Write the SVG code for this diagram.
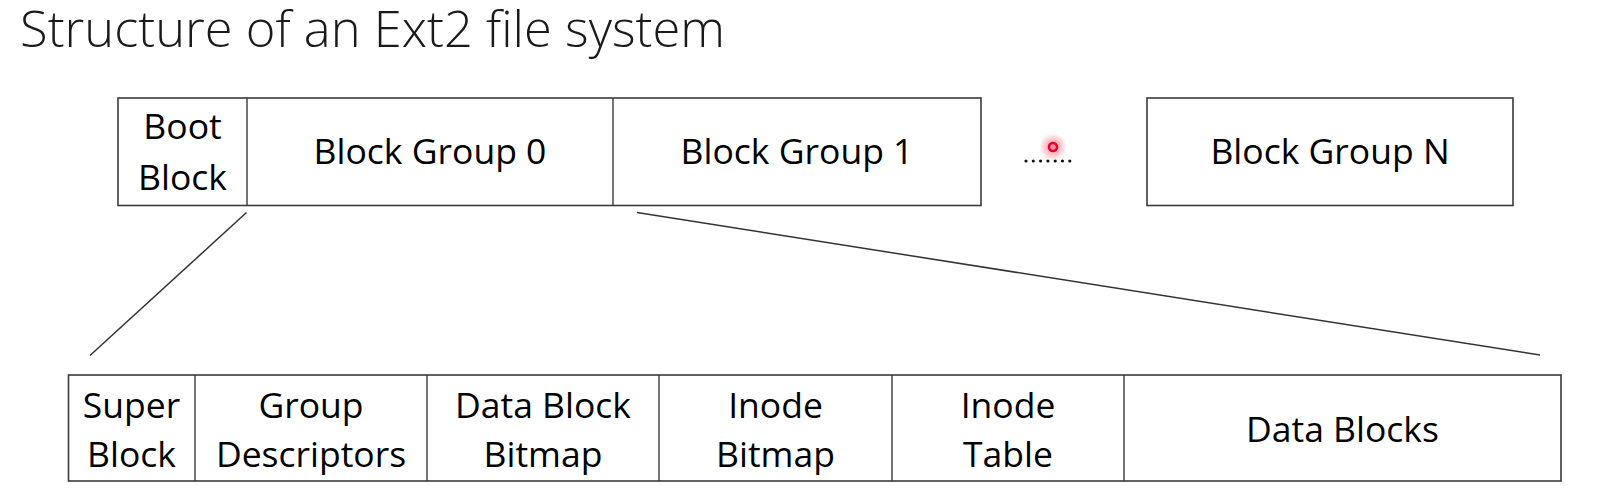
<svg xmlns="http://www.w3.org/2000/svg" width="1601" height="496" viewBox="0 0 1601 496">
<style>
.box{fill:#fff;stroke:#3a3a3a;stroke-width:1.6}
.div{stroke:#3a3a3a;stroke-width:1.4}
.lbl{font-family:"Open Sans","Noto Sans",sans-serif;font-size:35.5px;fill:#000;text-anchor:middle}
.title{font-family:"Open Sans","Noto Sans",sans-serif;font-size:50px;font-weight:300;fill:#1a1a1a}
.conn{stroke:#333;stroke-width:1.5;fill:none}
</style>
<defs>
<radialGradient id="glow">
<stop offset="0" stop-color="#ff2a4a" stop-opacity="0.6"/>
<stop offset="1" stop-color="#ff2a4a" stop-opacity="0"/>
</radialGradient>
</defs>
<rect width="1601" height="496" fill="#fff"/>
<text class="title" x="20" y="47" textLength="705" lengthAdjust="spacingAndGlyphs">Structure of an Ext2 file system</text>

<g id="top-row">
<rect class="box" x="118" y="98" width="863" height="107.5"/>
<line class="div" x1="247" y1="98" x2="247" y2="205.5"/>
<line class="div" x1="613" y1="98" x2="613" y2="205.5"/>
</g>
<g id="boot-block">
<text class="lbl" x="182.5" y="139">Boot</text>
<text class="lbl" x="182.5" y="190">Block</text>
</g>
<g id="block-group-0"><text class="lbl" x="430" y="164">Block Group 0</text></g>
<g id="block-group-1"><text class="lbl" x="797" y="164">Block Group 1</text></g>
<g id="ellipsis">
<g fill="#111">
<circle cx="1026" cy="161" r="1.6"/><circle cx="1033.3" cy="161" r="1.6"/><circle cx="1040.6" cy="161" r="1.6"/><circle cx="1047.9" cy="161" r="1.6"/><circle cx="1055.2" cy="161" r="1.6"/><circle cx="1062.5" cy="161" r="1.6"/><circle cx="1069.8" cy="161" r="1.6"/>
</g>
</g>
<g id="pointer">
<circle cx="1053" cy="147" r="14" fill="url(#glow)"/>
<circle cx="1053" cy="147" r="4" fill="none" stroke="#e8002a" stroke-width="2.5"/>
</g>
<g id="block-group-n">
<rect class="box" x="1147" y="98" width="366" height="107.5"/>
<text class="lbl" x="1330" y="164">Block Group N</text>
</g>

<g id="connectors">
<line class="conn" x1="246.5" y1="212.5" x2="90" y2="355.5"/>
<line class="conn" x1="637" y1="212.5" x2="1540" y2="355"/>
</g>

<g id="bottom-row">
<rect class="box" x="68.5" y="375" width="1492.5" height="106"/>
<line class="div" x1="195" y1="375" x2="195" y2="481"/>
<line class="div" x1="427" y1="375" x2="427" y2="481"/>
<line class="div" x1="659" y1="375" x2="659" y2="481"/>
<line class="div" x1="892" y1="375" x2="892" y2="481"/>
<line class="div" x1="1124" y1="375" x2="1124" y2="481"/>
</g>
<g id="super-block"><text class="lbl" x="131.5" y="418">Super</text><text class="lbl" x="131.5" y="467">Block</text></g>
<g id="group-descriptors"><text class="lbl" x="311" y="418">Group</text><text class="lbl" x="311" y="467">Descriptors</text></g>
<g id="data-block-bitmap"><text class="lbl" x="543" y="418">Data Block</text><text class="lbl" x="543" y="467">Bitmap</text></g>
<g id="inode-bitmap"><text class="lbl" x="775.5" y="418">Inode</text><text class="lbl" x="775.5" y="467">Bitmap</text></g>
<g id="inode-table"><text class="lbl" x="1008" y="418">Inode</text><text class="lbl" x="1008" y="467">Table</text></g>
<g id="data-blocks"><text class="lbl" x="1342.5" y="442">Data Blocks</text></g>
</svg>
